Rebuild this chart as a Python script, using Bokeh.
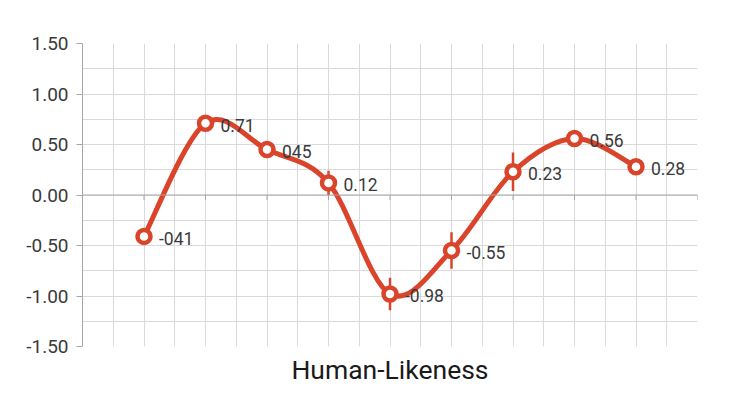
from bokeh.plotting import figure
from bokeh.models import Range1d, SingleIntervalTicker, FixedTicker, NumeralTickFormatter, Span, ColumnDataSource
from bokeh.core.properties import value
from bokeh.embed import file_html
from bokeh.resources import INLINE

# data
values = [-0.41, 0.71, 0.45, 0.12, -0.98, -0.55, 0.23, 0.56, 0.28]
errors = [0.04, 0.04, 0.04, 0.12, 0.16, 0.18, 0.19, 0.04, 0.04]
point_labels = ["-041", "0.71", "045", "0.12", "-0.98", "-0.55", "0.23", "0.56", "0.28"]
y_ticks = [-1.5, -1.0, -0.5, 0.0, 0.5, 1.0, 1.5]
axis_title = "Human-Likeness"

RED = "#d9442b"
FONT = "Roboto"

xs = [i + 1 for i in range(len(values))]
n = len(values)

p = figure(width=730, height=408, output_backend="svg", toolbar_location=None,
           x_range=Range1d(0, 10), y_range=Range1d(-1.5, 1.5),
           min_border_left=82, min_border_right=33, min_border_top=43, min_border_bottom=62)
p.outline_line_color = None
p.background_fill_color = "white"

# grids
p.xgrid.ticker = SingleIntervalTicker(interval=0.5)
p.ygrid.ticker = SingleIntervalTicker(interval=0.25)
p.xgrid.grid_line_color = "#dadada"
p.ygrid.grid_line_color = "#dadada"

# y axis
p.yaxis.ticker = FixedTicker(ticks=y_ticks)
p.yaxis.formatter = NumeralTickFormatter(format="0.00")
p.yaxis.axis_line_color = "#a6a6a6"
p.yaxis.major_tick_line_color = "#a6a6a6"
p.yaxis.major_tick_out = 6
p.yaxis.major_tick_in = 0
p.yaxis.minor_tick_line_color = None
p.yaxis.major_label_text_font = FONT
p.yaxis.major_label_text_font_size = "19px"
p.yaxis.major_label_text_color = "#3a3a3a"
p.yaxis.major_label_standoff = 8

# x axis (title only)
p.xaxis.ticker = FixedTicker(ticks=[])
p.xaxis.axis_line_color = None
p.xaxis.major_tick_line_color = None
p.xaxis.minor_tick_line_color = None
p.xaxis.major_label_text_font_size = "0px"
p.xaxis.axis_label = axis_title
p.xaxis.axis_label_text_font = FONT
p.xaxis.axis_label_text_font_size = "26.5px"
p.xaxis.axis_label_text_font_style = "normal"
p.xaxis.axis_label_text_color = "#1a1a1a"
p.xaxis.axis_label_standoff = 7

# zero line with ticks
p.add_layout(Span(location=0, dimension="width", line_color="#a6a6a6", line_width=1))
tick_x = list(range(0, 11))
p.segment(x0=tick_x, y0=[0] * len(tick_x), x1=tick_x, y1=[-0.05] * len(tick_x),
          line_color="#a6a6a6", line_width=1)

# smooth curve (Catmull-Rom bezier through data points)
bx0, by0, bx1, by1, cx0, cy0, cx1, cy1 = [], [], [], [], [], [], [], []
for i in range(n - 1):
    pm = (xs[max(i - 1, 0)], values[max(i - 1, 0)])
    p0 = (xs[i], values[i])
    p1 = (xs[i + 1], values[i + 1])
    p2 = (xs[min(i + 2, n - 1)], values[min(i + 2, n - 1)])
    bx0.append(p0[0]); by0.append(p0[1]); bx1.append(p1[0]); by1.append(p1[1])
    cx0.append(p0[0] + (p1[0] - pm[0]) / 6); cy0.append(p0[1] + (p1[1] - pm[1]) / 6)
    cx1.append(p1[0] - (p2[0] - p0[0]) / 6); cy1.append(p1[1] - (p2[1] - p0[1]) / 6)
p.bezier(x0=bx0, y0=by0, x1=bx1, y1=by1, cx0=cx0, cy0=cy0, cx1=cx1, cy1=cy1,
         line_color=RED, line_width=5, line_cap="round")

# error bars
p.segment(x0=xs, x1=xs, y0=[v - e for v, e in zip(values, errors)],
          y1=[v + e for v, e in zip(values, errors)], line_color=RED, line_width=2.5)

src = ColumnDataSource(dict(x=xs, y=values, t=point_labels))
p.scatter("x", "y", source=src, size=13, fill_color="white", line_color=RED, line_width=4.5)
p.text("x", "y", text="t", source=src, x_offset=15, y_offset=2, text_baseline="middle",
       text_font=value(FONT), text_font_size="17.5px", text_color="#3a3a3a")

open("out.html", "w").write(file_html(p, INLINE))
